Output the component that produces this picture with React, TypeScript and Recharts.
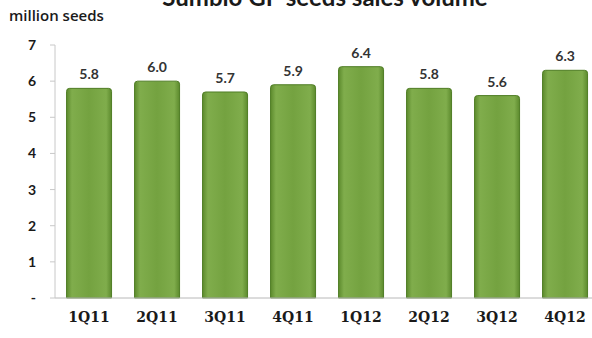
import { BarChart, Bar, XAxis, YAxis, LabelList } from 'recharts';

const quarters = ['1Q11', '2Q11', '3Q11', '4Q11', '1Q12', '2Q12', '3Q12', '4Q12'];
const volumes = [5.8, 6.0, 5.7, 5.9, 6.4, 5.8, 5.6, 6.3];
const yTicks = [0, 1, 2, 3, 4, 5, 6, 7];

const data = quarters.map((q, i) => ({ quarter: q, volume: volumes[i] }));

const sans = 'Lato, "Open Sans", sans-serif';
const serif = '"DejaVu Serif", "Liberation Serif", serif';

export default function App() {
  return (
    <div
      style={{
        position: 'fixed',
        left: 0,
        top: 0,
        width: 592,
        height: 338,
        overflow: 'hidden',
        background: '#ffffff',
      }}
    >
      {/* title is cut off at the top of the original picture */}
      <div
        style={{
          position: 'absolute',
          top: -18,
          left: 0,
          width: 650,
          textAlign: 'center',
          fontFamily: sans,
          fontWeight: 700,
          fontSize: 24,
          color: '#1a1a1a',
          whiteSpace: 'nowrap',
        }}
      >
        Sumbio GP seeds sales volume
      </div>
      <div
        style={{
          position: 'absolute',
          top: 5,
          left: 9,
          fontFamily: '"Open Sans", sans-serif',
          fontWeight: 600,
          fontSize: 15,
          color: '#1a1a1a',
        }}
      >
        million seeds
      </div>
      <BarChart
        width={600}
        height={338}
        data={data}
        margin={{ top: 45, right: 1, left: 0, bottom: 0 }}
        barCategoryGap="17%"
        style={{ position: 'absolute', left: 0, top: 0 }}
      >
        <defs>
          <linearGradient id="barGreen" x1="0" y1="0" x2="1" y2="0">
            <stop offset="0%" stopColor="#5c8a2d" />
            <stop offset="12%" stopColor="#80ad4c" />
            <stop offset="50%" stopColor="#74a240" />
            <stop offset="88%" stopColor="#80ad4c" />
            <stop offset="100%" stopColor="#5c8a2d" />
          </linearGradient>
        </defs>
        <XAxis
          dataKey="quarter"
          height={40}
          axisLine={{ stroke: '#b8b8b8' }}
          tickLine={false}
          tickMargin={8}
          tick={{ fontSize: 14, fontWeight: 700, fill: '#1a1a1a', fontFamily: serif }}
        />
        <YAxis
          width={55}
          domain={[0, 7]}
          ticks={yTicks}
          interval={0}
          axisLine={{ stroke: '#c8c8c8' }}
          tickLine={{ stroke: '#c8c8c8' }}
          tickSize={5}
          tickMargin={14}
          tickFormatter={(v: number) => (v === 0 ? '-' : String(v))}
          tick={{ fontSize: 14, fontWeight: 700, fill: '#1a1a1a', fontFamily: sans }}
        />
        <Bar
          dataKey="volume"
          fill="url(#barGreen)"
          stroke="#4f7d25"
          strokeWidth={1}
          radius={[3, 3, 0, 0]}
          isAnimationActive={false}
        >
          <LabelList
            dataKey="volume"
            position="top"
            offset={9}
            formatter={(v: number) => v.toFixed(1)}
            style={{ fontSize: 14, fontWeight: 700, fill: '#333333', fontFamily: sans }}
          />
        </Bar>
      </BarChart>
    </div>
  );
}
